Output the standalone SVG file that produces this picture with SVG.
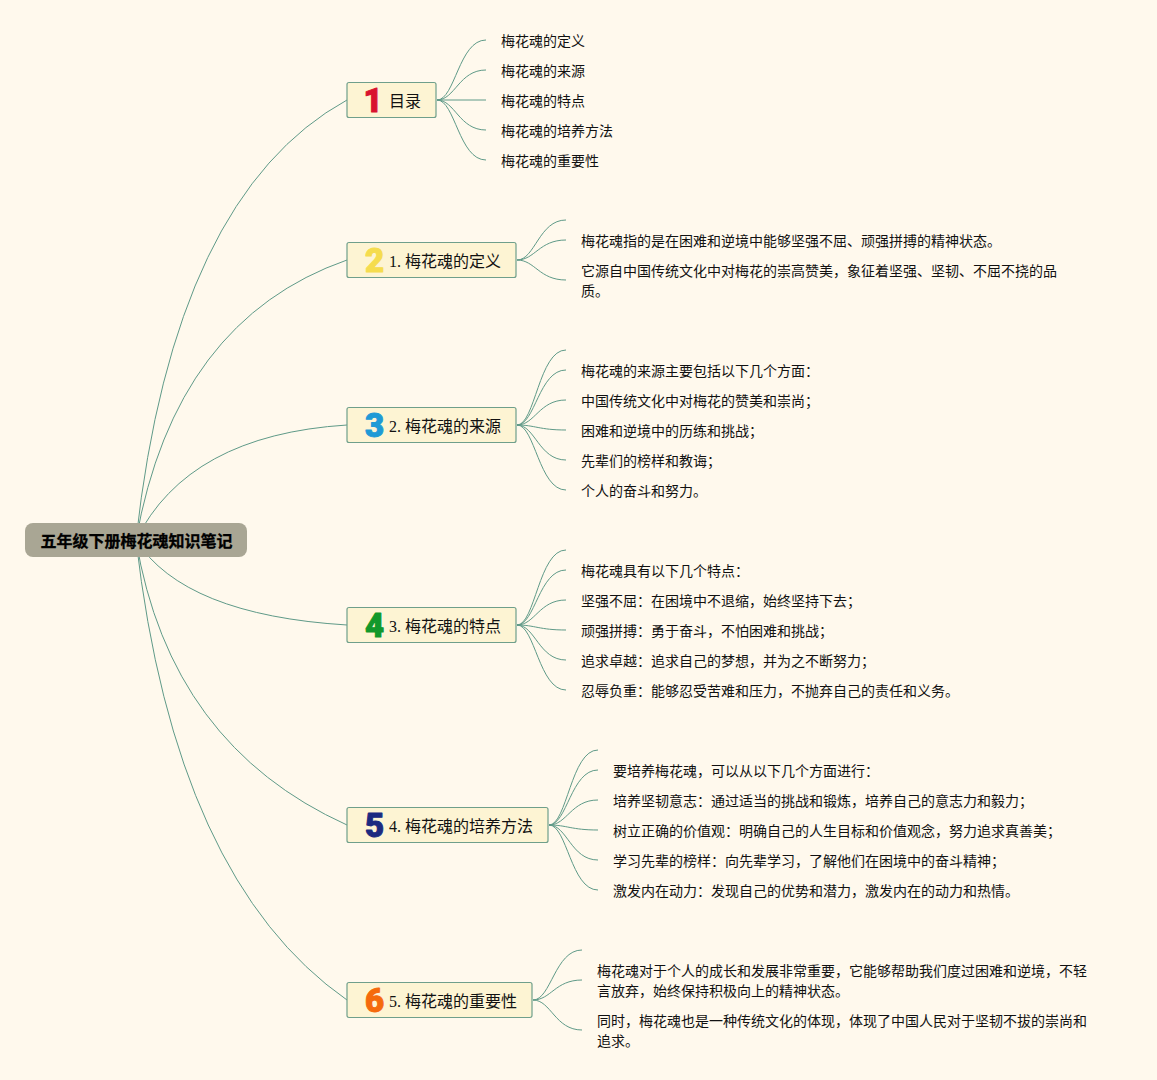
<svg xmlns="http://www.w3.org/2000/svg" width="1157" height="1080" viewBox="0 0 1157 1080">
<style>
text{font-family:"Liberation Serif","Noto Sans CJK SC",sans-serif;fill:#111}
.leaf{font-size:14px}
.t{font-size:16px}
.root-t{font-size:16px;font-weight:bold;fill:#000;stroke:#000;stroke-width:.3}
.box{fill:#fdf4d3;stroke:#6f9f8b;stroke-width:1.2}
.num{font-family:Roboto,sans-serif;font-size:33px;font-weight:900;stroke-width:1;stroke-linejoin:round;text-anchor:middle}
#edges path{fill:none;stroke:#5f9a88;stroke-width:1}
</style>
<rect width="1157" height="1080" fill="#fff9ed"/>
<g id="edges">
<path d="M136,540 Q174,195 347,100"/>
<path d="M136,540 Q175,320 347,260"/>
<path d="M136,540 Q188,435 347,425"/>
<path d="M136,540 Q184,615 347,625"/>
<path d="M136,540 Q170,745 347,825"/>
<path d="M136,540 Q175,880 347,1000"/>
<path d="M437,100 C455,100 459,40 486,40"/>
<path d="M437,100 C455,100 459,70 486,70"/>
<path d="M437,100 H486"/>
<path d="M437,100 C455,100 459,130 486,130"/>
<path d="M437,100 C455,100 459,160 486,160"/>
<path d="M517,260 C535,260 539,220 566,220"/>
<path d="M517,260 C535,260 539,240 566,240"/>
<path d="M517,260 C535,260 539,280 566,280"/>
<path d="M517,425 C535,425 539,350 566,350"/>
<path d="M517,425 C535,425 539,370 566,370"/>
<path d="M517,425 C535,425 539,400 566,400"/>
<path d="M517,425 C535,425 539,430 566,430"/>
<path d="M517,425 C535,425 539,460 566,460"/>
<path d="M517,425 C535,425 539,490 566,490"/>
<path d="M517,625 C535,625 539,550 566,550"/>
<path d="M517,625 C535,625 539,570 566,570"/>
<path d="M517,625 C535,625 539,600 566,600"/>
<path d="M517,625 C535,625 539,630 566,630"/>
<path d="M517,625 C535,625 539,660 566,660"/>
<path d="M517,625 C535,625 539,690 566,690"/>
<path d="M549,825 C567,825 571,750 598,750"/>
<path d="M549,825 C567,825 571,770 598,770"/>
<path d="M549,825 C567,825 571,800 598,800"/>
<path d="M549,825 C567,825 571,830 598,830"/>
<path d="M549,825 C567,825 571,860 598,860"/>
<path d="M549,825 C567,825 571,890 598,890"/>
<path d="M533,1000 C551,1000 555,950 582,950"/>
<path d="M533,1000 C551,1000 555,980 582,980"/>
<path d="M533,1000 C551,1000 555,1030 582,1030"/>
</g>
<g id="root"><rect x="25" y="523" width="222" height="34" rx="8" fill="#a9a694"/><text class="root-t" x="40.500" y="547">五年级下册梅花魂知识笔记</text></g>
<g id="n0"><rect class="box" x="347" y="82.500" width="89" height="35" rx="2"/><text class="num" x="373" y="112" style="fill:#d9122f;stroke:#d9122f">1</text><text class="t" x="389" y="107">目录</text></g>
<g id="n1"><rect class="box" x="347" y="242.500" width="169" height="35" rx="2"/><text class="num" x="374.500" y="272" style="fill:#f5dc4e;stroke:#f5dc4e">2</text><text class="t" x="389" y="267">1. 梅花魂的定义</text></g>
<g id="n2"><rect class="box" x="347" y="407.500" width="169" height="35" rx="2"/><text class="num" x="374.500" y="437" style="fill:#1f9ad6;stroke:#1f9ad6">3</text><text class="t" x="389" y="432">2. 梅花魂的来源</text></g>
<g id="n3"><rect class="box" x="347" y="607.500" width="169" height="35" rx="2"/><text class="num" x="374.500" y="637" style="fill:#12982b;stroke:#12982b">4</text><text class="t" x="389" y="632">3. 梅花魂的特点</text></g>
<g id="n4"><rect class="box" x="347" y="807.500" width="201" height="35" rx="2"/><text class="num" x="374.500" y="837" style="fill:#1c2a80;stroke:#1c2a80">5</text><text class="t" x="389" y="832">4. 梅花魂的培养方法</text></g>
<g id="n5"><rect class="box" x="347" y="982.500" width="185" height="35" rx="2"/><text class="num" x="374.500" y="1012" style="fill:#f56a0c;stroke:#f56a0c">6</text><text class="t" x="389" y="1007">5. 梅花魂的重要性</text></g>
<g id="l0"><text class="leaf" x="501" y="46">梅花魂的定义</text><text class="leaf" x="501" y="76">梅花魂的来源</text><text class="leaf" x="501" y="106">梅花魂的特点</text><text class="leaf" x="501" y="136">梅花魂的培养方法</text><text class="leaf" x="501" y="166">梅花魂的重要性</text></g>
<g id="l1"><text class="leaf" x="581" y="246">梅花魂指的是在困难和逆境中能够坚强不屈、顽强拼搏的精神状态。</text><text class="leaf" x="581" y="276">它源自中国传统文化中对梅花的崇高赞美，象征着坚强、坚韧、不屈不挠的品</text><text class="leaf" x="581" y="296">质。</text></g>
<g id="l2"><text class="leaf" x="581" y="376">梅花魂的来源主要包括以下几个方面：</text><text class="leaf" x="581" y="406">中国传统文化中对梅花的赞美和崇尚；</text><text class="leaf" x="581" y="436">困难和逆境中的历练和挑战；</text><text class="leaf" x="581" y="466">先辈们的榜样和教诲；</text><text class="leaf" x="581" y="496">个人的奋斗和努力。</text></g>
<g id="l3"><text class="leaf" x="581" y="576">梅花魂具有以下几个特点：</text><text class="leaf" x="581" y="606">坚强不屈：在困境中不退缩，始终坚持下去；</text><text class="leaf" x="581" y="636">顽强拼搏：勇于奋斗，不怕困难和挑战；</text><text class="leaf" x="581" y="666">追求卓越：追求自己的梦想，并为之不断努力；</text><text class="leaf" x="581" y="696">忍辱负重：能够忍受苦难和压力，不抛弃自己的责任和义务。</text></g>
<g id="l4"><text class="leaf" x="613" y="776">要培养梅花魂，可以从以下几个方面进行：</text><text class="leaf" x="613" y="806">培养坚韧意志：通过适当的挑战和锻炼，培养自己的意志力和毅力；</text><text class="leaf" x="613" y="836">树立正确的价值观：明确自己的人生目标和价值观念，努力追求真善美；</text><text class="leaf" x="613" y="866">学习先辈的榜样：向先辈学习，了解他们在困境中的奋斗精神；</text><text class="leaf" x="613" y="896">激发内在动力：发现自己的优势和潜力，激发内在的动力和热情。</text></g>
<g id="l5"><text class="leaf" x="597" y="976">梅花魂对于个人的成长和发展非常重要，它能够帮助我们度过困难和逆境，不轻</text><text class="leaf" x="597" y="996">言放弃，始终保持积极向上的精神状态。</text><text class="leaf" x="597" y="1026">同时，梅花魂也是一种传统文化的体现，体现了中国人民对于坚韧不拔的崇尚和</text><text class="leaf" x="597" y="1046">追求。</text></g>
</svg>
